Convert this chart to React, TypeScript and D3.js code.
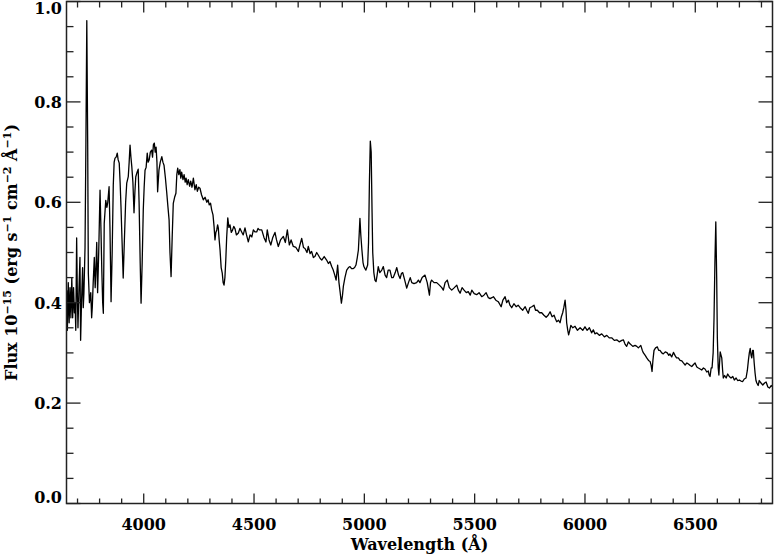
import React from 'react';
import * as d3 from 'd3';

// Spectrum samples: [wavelength (Å), flux (1e-15 erg s^-1 cm^-2 Å^-1)]
const spectrumBlue: [number, number][] = [
  [3651,0.425],[3654,0.345],[3658,0.44],[3662,0.36],[3666,0.43],[3670,0.37],[3674,0.45],[3678,0.37],[3682,0.43],[3686,0.38],
  [3689,0.40],[3692,0.345],[3696,0.529],[3699,0.42],[3702,0.35],[3706,0.42],[3711,0.49],[3714,0.325],[3718,0.40],[3723,0.47],
  [3726,0.39],[3729,0.42],[3734,0.51],[3738,0.72],[3742,0.962],[3746,0.72],[3749,0.458],[3754,0.40],[3760,0.42],[3764,0.37],
  [3767,0.392],[3771,0.44],[3776,0.49],[3780,0.43],[3784,0.475],[3787,0.52],[3791,0.42],[3796,0.50],[3802,0.624],[3806,0.55],
  [3810,0.465],[3814,0.40],[3817,0.379],[3821,0.558],[3828,0.604],[3833,0.59],[3837,0.60],[3843,0.631],[3847,0.55],[3852,0.402],
  [3857,0.50],[3862,0.634],[3866,0.68],[3870,0.688],[3875,0.69],[3880,0.698],[3884,0.685],[3889,0.678],[3893,0.64],[3897,0.591],
  [3902,0.52],[3907,0.449],[3912,0.52],[3918,0.60],[3923,0.638],[3930,0.651],[3934,0.68],[3938,0.714],[3942,0.69],[3946,0.671],
  [3951,0.64],[3956,0.579],[3960,0.62],[3964,0.651],[3970,0.66],[3975,0.666],[3979,0.60],[3984,0.48],[3988,0.399],[3993,0.48],
  [3998,0.585],[4002,0.63],[4006,0.664],[4011,0.67],[4016,0.698],[4020,0.68],[4025,0.685],[4030,0.70],[4036,0.704],[4040,0.69],
  [4044,0.715],[4048,0.718],[4052,0.70],[4056,0.71],[4060,0.68],[4063,0.621],[4069,0.664],[4075,0.68],[4082,0.691],[4087,0.68],
  [4092,0.674],[4098,0.65],[4104,0.621],[4110,0.59],[4115,0.565],[4119,0.50],[4124,0.452],[4129,0.53],[4134,0.598],[4140,0.61],
  [4146,0.618],[4150,0.655],[4154,0.668],[4159,0.655],[4164,0.665],[4168,0.648],[4172,0.66],[4178,0.645],[4183,0.655],[4188,0.64],
  [4192,0.648],[4197,0.635],[4202,0.645],[4208,0.632],[4213,0.642],[4219,0.63],[4225,0.648],[4232,0.625],[4238,0.635],[4243,0.622],
  [4249,0.63],[4255,0.628],[4262,0.615],[4270,0.605],[4278,0.61],[4286,0.60],[4292,0.605],[4297,0.595],[4303,0.598],[4308,0.585],
  [4314,0.575],[4319,0.551],[4323,0.525],[4327,0.54],[4331,0.545],[4335,0.555],[4338,0.549],[4342,0.525],[4346,0.505],[4351,0.47],
  [4356,0.459],[4360,0.44],[4364,0.435],[4368,0.45],[4372,0.485],[4376,0.53],[4381,0.569],[4386,0.55],[4391,0.555]
];

const spectrumMid: [number, number][] = [
  [4397,0.54],[4403,0.545],[4408,0.552],[4414,0.547],[4420,0.535],[4429,0.539],[4436,0.548],[4444,0.541],[4451,0.535],[4459,0.549],
  [4466,0.535],[4474,0.521],[4482,0.535],[4490,0.531],[4497,0.545],[4504,0.541],[4512,0.541],[4518,0.548],[4524,0.545],[4535,0.545],
  [4545,0.53],[4554,0.521],[4560,0.545],[4568,0.525],[4576,0.515],[4585,0.53],[4595,0.54],[4602,0.525],[4610,0.512],[4620,0.525],
  [4633,0.532],[4642,0.52],[4651,0.545],[4660,0.515],[4668,0.525],[4678,0.512],[4690,0.51],[4701,0.502],[4708,0.515],[4716,0.528],
  [4724,0.51],[4731,0.508],[4740,0.50],[4746,0.512],[4754,0.498],[4761,0.502],[4769,0.49],[4776,0.492],[4784,0.50],[4791,0.495],
  [4800,0.488],[4807,0.485],[4818,0.492],[4829,0.485],[4837,0.478],[4844,0.482],[4852,0.472],[4859,0.465],[4866,0.455],[4872,0.445],
  [4879,0.475],[4885,0.44],[4890,0.422],[4896,0.399],[4901,0.415],[4905,0.433],[4912,0.45],[4920,0.465],[4928,0.47],[4935,0.472],
  [4942,0.468],[4950,0.468],[4956,0.47],[4962,0.475],[4968,0.49],[4973,0.505],[4977,0.54],[4980,0.568],[4984,0.535],[4989,0.505],
  [4994,0.48],[4998,0.472],[5003,0.468],[5007,0.465],[5011,0.47],[5015,0.475],[5019,0.52],[5023,0.64],[5027,0.722],[5031,0.70],
  [5035,0.58],[5038,0.50],[5043,0.46],[5048,0.445],[5053,0.442],[5058,0.455],[5063,0.472],[5070,0.46],[5079,0.465],[5086,0.472],
  [5094,0.455],[5101,0.45],[5108,0.465],[5116,0.465],[5124,0.45],[5131,0.45],[5140,0.46],[5147,0.47],[5155,0.455],[5162,0.448],
  [5168,0.458],[5174,0.46],[5183,0.445],[5192,0.429],[5200,0.44],[5208,0.45],[5215,0.44],[5225,0.438],[5237,0.44],[5245,0.445],
  [5252,0.44],[5262,0.45],[5275,0.455],[5285,0.44],[5295,0.415],[5300,0.44],[5305,0.445],[5316,0.44],[5328,0.44],[5340,0.435],
  [5351,0.43],[5358,0.425],[5366,0.44],[5376,0.445],[5385,0.43],[5396,0.425],[5408,0.43],[5419,0.435],[5426,0.425],[5434,0.419],
  [5443,0.43],[5452,0.425],[5462,0.42],[5471,0.422],[5480,0.415],[5487,0.425],[5498,0.418],[5509,0.416],[5520,0.42],[5532,0.412],
  [5542,0.415],[5552,0.42],[5562,0.41],[5570,0.408],[5578,0.41],[5585,0.412],[5596,0.405],[5607,0.402],[5620,0.392],[5628,0.405],
  [5638,0.412],[5645,0.40],[5653,0.405],[5660,0.395],[5668,0.39],[5678,0.398],[5688,0.392],[5697,0.395],[5706,0.39],[5718,0.385],
  [5729,0.392],[5736,0.385],[5743,0.379],[5750,0.39],[5759,0.392],[5769,0.395],[5776,0.385],[5784,0.385],[5794,0.38],[5804,0.38],
  [5814,0.375],[5824,0.371],[5833,0.375],[5842,0.382],[5851,0.372],[5860,0.375],[5866,0.368],[5872,0.362],[5880,0.365],[5887,0.36],
  [5893,0.372],[5899,0.38],[5904,0.39],[5910,0.405],[5914,0.385],[5917,0.36],[5922,0.345],[5926,0.336],[5931,0.345],[5936,0.355]
];

const spectrumRed: [number, number][] = [
  [5945,0.35],[5955,0.353],[5966,0.345],[5978,0.35],[5990,0.345],[6000,0.352],[6010,0.345],[6020,0.35],[6030,0.34],[6038,0.346],
  [6045,0.338],[6053,0.34],[6065,0.335],[6076,0.338],[6088,0.332],[6099,0.335],[6110,0.33],[6121,0.33],[6133,0.325],[6144,0.326],
  [6155,0.322],[6167,0.325],[6174,0.326],[6182,0.317],[6189,0.313],[6197,0.322],[6204,0.318],[6217,0.313],[6227,0.315],[6235,0.313],
  [6242,0.31],[6253,0.315],[6260,0.305],[6265,0.30],[6273,0.295],[6280,0.29],[6288,0.285],[6295,0.283],[6300,0.275],[6304,0.263],
  [6308,0.285],[6313,0.305],[6320,0.31],[6328,0.312],[6334,0.305],[6340,0.305],[6348,0.30],[6355,0.298],[6364,0.302],[6373,0.30],
  [6380,0.295],[6385,0.298],[6393,0.292],[6401,0.301],[6408,0.295],[6415,0.29],[6423,0.29],[6431,0.285],[6439,0.284],[6446,0.28],
  [6454,0.276],[6462,0.28],[6469,0.278],[6477,0.275],[6484,0.273],[6492,0.277],[6499,0.28],[6507,0.272],[6514,0.27],[6522,0.268],
  [6529,0.266],[6537,0.27],[6544,0.268],[6552,0.262],[6559,0.264],[6563,0.256],[6567,0.253],[6572,0.27],[6576,0.27],[6581,0.30],
  [6585,0.37],[6589,0.48],[6593,0.561],[6597,0.45],[6600,0.33],[6604,0.27],[6607,0.256],[6610,0.28],[6613,0.302],[6617,0.295],
  [6620,0.29],[6624,0.265],[6627,0.25],[6633,0.255],[6640,0.25],[6647,0.258],[6654,0.253],[6662,0.25],[6670,0.253],[6677,0.246],
  [6685,0.25],[6692,0.245],[6700,0.246],[6707,0.244],[6715,0.243],[6722,0.248],[6730,0.25],[6736,0.265],[6741,0.286],[6745,0.30],
  [6749,0.309],[6753,0.295],[6756,0.29],[6760,0.305],[6763,0.305],[6767,0.28],[6771,0.26],[6775,0.245],[6779,0.24],[6785,0.235],
  [6790,0.245],[6798,0.24],[6806,0.236],[6814,0.24],[6821,0.242],[6829,0.232],[6836,0.23],[6844,0.235],[6851,0.232]
];

const xDomain = [3650, 6850];
const yDomain = [0, 1];
const xMajorTicks = [4000, 4500, 5000, 5500, 6000, 6500];
const yMajorTicks = [0, 0.2, 0.4, 0.6, 0.8, 1.0];

const FONT = '"DejaVu Serif", serif';

export default function App() {
  const left = 66.5, right = 772.5, top = 1.5, bottom = 503.5;
  const x = d3.scaleLinear().domain(xDomain).range([left, right]);
  const y = d3.scaleLinear().domain(yDomain).range([bottom, top]);
  const data = [...spectrumBlue, ...spectrumMid, ...spectrumRed];
  const line = d3.line<[number, number]>().x(d => x(d[0])).y(d => y(d[1]));

  const xMinor = d3.range(3700, 6850, 100).filter(v => !xMajorTicks.includes(v));
  const yMinor = d3.range(0.05, 1.0, 0.05).filter(v => !yMajorTicks.some(m => Math.abs(m - v) < 1e-6));
  const fmt = d3.format('.1f');
  const axisColor = '#222';
  const fs = 16;

  return (
    <svg width={774} height={555} style={{ position: 'absolute', left: 0, top: 0, background: '#fff' }}
      fontFamily={FONT} fontWeight="bold">
      <rect x={0} y={0} width={774} height={555} fill="#fff" />
      <path d={line(data) || ''} fill="none" stroke="#000" strokeWidth={1.3} strokeLinejoin="round" />
      {/* frame */}
      <rect x={left} y={top} width={right - left} height={bottom - top} fill="none" stroke={axisColor} strokeWidth={1.5} />
      {/* x ticks */}
      {xMajorTicks.map(v => (
        <g key={'xm' + v}>
          <line x1={x(v)} x2={x(v)} y1={bottom} y2={bottom - 10} stroke={axisColor} strokeWidth={1.3} />
          <line x1={x(v)} x2={x(v)} y1={top} y2={top + 11} stroke={axisColor} strokeWidth={1.3} />
          <text x={x(v)} y={529.5} fontSize={fs} textAnchor="middle" fill="#000">{v}</text>
        </g>
      ))}
      {xMinor.map(v => (
        <g key={'xn' + v}>
          <line x1={x(v)} x2={x(v)} y1={bottom} y2={bottom - 5} stroke={axisColor} strokeWidth={1.3} />
          <line x1={x(v)} x2={x(v)} y1={top} y2={top + 6} stroke={axisColor} strokeWidth={1.3} />
        </g>
      ))}
      {/* y ticks */}
      {yMajorTicks.map((v, i) => {
        let ty = y(v) + 5.8;
        if (i === 0) ty = y(v) - 0.3;
        if (i === yMajorTicks.length - 1) ty = y(v) + 12;
        return (
          <g key={'ym' + v}>
            <line x1={left} x2={left + 14} y1={y(v)} y2={y(v)} stroke={axisColor} strokeWidth={1.3} />
            <line x1={right} x2={right - 14} y1={y(v)} y2={y(v)} stroke={axisColor} strokeWidth={1.3} />
            <text x={62} y={ty} fontSize={fs} textAnchor="end" fill="#000">{fmt(v)}</text>
          </g>
        );
      })}
      {yMinor.map(v => (
        <g key={'yn' + v}>
          <line x1={left} x2={left + 7} y1={y(v)} y2={y(v)} stroke={axisColor} strokeWidth={1.3} />
          <line x1={right} x2={right - 7} y1={y(v)} y2={y(v)} stroke={axisColor} strokeWidth={1.3} />
        </g>
      ))}
      {/* axis titles */}
      <text x={(left + right) / 2} y={550} fontSize={fs} textAnchor="middle" fill="#000">Wavelength (Å)</text>
      <text transform={`translate(17,${(top + bottom) / 2}) rotate(-90)`} fontSize={fs} textAnchor="middle" fill="#000">
        Flux 10<tspan fontSize={11} dy={-6}>−15</tspan>
        <tspan dy={6}> (erg s</tspan><tspan fontSize={11} dy={-6}>−1</tspan>
        <tspan dy={6}> cm</tspan><tspan fontSize={11} dy={-6}>−2</tspan>
        <tspan dy={6}> Å</tspan><tspan fontSize={11} dy={-6}>−1</tspan>
        <tspan dy={6}>)</tspan>
      </text>
    </svg>
  );
}
